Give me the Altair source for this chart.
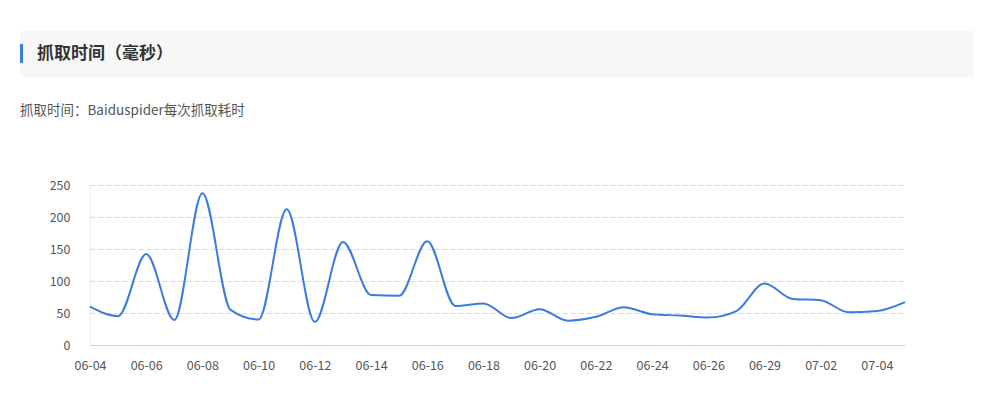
import altair as alt
import pandas as pd

dates = ["06-04", "06-05", "06-06", "06-07", "06-08", "06-09", "06-10", "06-11", "06-12", "06-13",
         "06-14", "06-15", "06-16", "06-17", "06-18", "06-19", "06-20", "06-21", "06-22", "06-23",
         "06-24", "06-25", "06-26", "06-27", "06-29", "06-30", "07-02", "07-03", "07-04", "07-05"]
values = [60, 45, 142, 39, 237, 55, 40, 212, 36, 161,
          78, 77, 162, 61, 65, 42, 56, 38, 44, 59,
          48, 46, 43, 53, 96, 72, 70, 51, 53, 67]
tick_labels = dates[0::2]

title_text = "抓取时间（毫秒）"
subtitle_text = "抓取时间：Baiduspider每次抓取耗时"

df = pd.DataFrame({"date": dates, "value": values})
FONT = "Noto Sans CJK SC"
W, H = 815, 160

line = alt.Chart(df).mark_line(color="#3b7be3", strokeWidth=2, interpolate="monotone").encode(
    x=alt.X("date:N", sort=dates,
            scale=alt.Scale(type="point", padding=0),
            axis=alt.Axis(values=tick_labels, labelAngle=0, title=None, ticks=False,
                          domainColor="#d0d0d0", labelColor="#555", labelFont=FONT,
                          labelFontSize=12.5, labelPadding=14, grid=False)),
    y=alt.Y("value:Q", scale=alt.Scale(domain=[0, 250], nice=False),
            axis=alt.Axis(values=[0, 50, 100, 150, 200, 250], title=None, ticks=False,
                          domain=True, domainColor="#ebebeb", labelColor="#555",
                          labelFont=FONT, labelFontSize=12.5,
                          labelPadding=20, gridColor="#d9d9d9", gridDash=[5, 3])),
)

one = alt.Data(values=[{"a": 1}])

header_bg = alt.Chart(one).mark_rect(color="#f7f7f7").encode(
    x=alt.value(-70), x2=alt.value(884), y=alt.value(-154), y2=alt.value(-108))
header_bar = alt.Chart(one).mark_rect(color="#3b7be3").encode(
    x=alt.value(-70), x2=alt.value(-67), y=alt.value(-141), y2=alt.value(-122))
header_text = alt.Chart(one).mark_text(
    text=title_text, font=FONT, fontSize=17, fontWeight="bold", color="#333",
    align="left", baseline="middle").encode(x=alt.value(-53), y=alt.value(-131))
sub_text = alt.Chart(one).mark_text(
    text=subtitle_text, font=FONT, fontSize=13.5, color="#555",
    align="left", baseline="middle").encode(x=alt.value(-70), y=alt.value(-74))

chart = alt.layer(header_bg, header_bar, header_text, sub_text, line).properties(
    width=W, height=H,
    background="white",
    autosize=alt.AutoSizeParams(type="none"),
    padding={"left": 82, "top": 177, "right": 69, "bottom": 63},
).configure_view(strokeWidth=0)

chart.save("out.html", embed_options={"renderer": "svg", "actions": False})
